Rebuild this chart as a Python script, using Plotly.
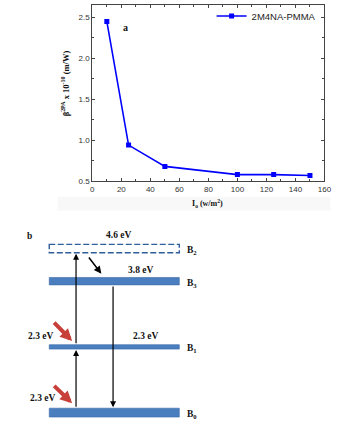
import plotly.graph_objects as go

# Panel (a): two-photon absorption coefficient vs input intensity
intensity = [10, 25, 50, 100, 125, 150]
beta_2pa = [2.45, 0.94, 0.68, 0.58, 0.58, 0.57]
series_name = "2M4NA-PMMA"
x_ticks = [0, 20, 40, 60, 80, 100, 120, 140, 160]
y_ticks = [0.5, 1.0, 1.5, 2.0, 2.5]

# Panel (b): energy level scheme
level_names = ["B<sub>0</sub>", "B<sub>1</sub>", "B<sub>3</sub>", "B<sub>2</sub>"]
level_energy_labels = ["", "2.3 eV", "3.8 eV", "4.6 eV"]
photon_labels = ["2.3 eV", "2.3 eV"]

W, H = 349, 428
BLUE = "#0000ff"
AX = "#444444"
SERIF = "Liberation Serif, Times New Roman, serif"
SANS = "Liberation Sans, Arial, sans-serif"

# plot frame of panel (a) in pixels
px0, px1 = 92.7, 331.0
py_top, py_bot = 4.7, 183.3

fig = go.Figure()
fig.add_trace(go.Scatter(
    x=intensity, y=beta_2pa, mode="lines+markers", name=series_name,
    line=dict(color=BLUE, width=1.6),
    marker=dict(symbol="square", size=5, color=BLUE),
    xaxis="x", yaxis="y",
))

axis_common = dict(
    showgrid=False, zeroline=False, showline=True, linecolor=AX, linewidth=1,
    mirror="ticks", ticks="inside", ticklen=3, tickcolor=AX, tickwidth=1,
    tickfont=dict(family=SANS, size=8, color="#333333"),
)
fig.update_layout(
    width=W, height=H,
    margin=dict(l=0, r=0, t=0, b=0),
    paper_bgcolor="white", plot_bgcolor="rgba(0,0,0,0)",
    xaxis=dict(domain=[px0 / W, px1 / W], range=[0, 160], tickvals=x_ticks,
               minor=dict(ticks="inside", ticklen=2, dtick=10, tickcolor=AX),
               anchor="y", **axis_common),
    yaxis=dict(domain=[1 - py_bot / H, 1 - py_top / H], range=[0.5, 2.655],
               tickvals=y_ticks, tickformat=".1f",
               minor=dict(ticks="inside", ticklen=2, dtick=0.25, tick0=0.5, tickcolor=AX),
               anchor="x", **axis_common),
    # pixel-space canvas for the level diagram and free text
    xaxis2=dict(domain=[0, 1], range=[0, W], visible=False, anchor="y2"),
    yaxis2=dict(domain=[0, 1], range=[H, 0], visible=False, anchor="x2"),
    showlegend=True,
    legend=dict(x=0.94, y=0.962, xanchor="right", yanchor="middle",
                bgcolor="rgba(0,0,0,0)", borderwidth=0, itemwidth=30,
                font=dict(family=SANS, size=9.5, color="#222222"),
                tracegroupgap=0),
)

# keep an (empty) trace on the pixel canvas so the overlay axes render
fig.add_trace(go.Scatter(x=[0], y=[0], mode="markers", marker=dict(opacity=0),
                         xaxis="x2", yaxis="y2", showlegend=False, hoverinfo="skip"))

shapes = []
ann = []

# faint band behind the x-axis title
shapes.append(dict(type="rect", xref="x2", yref="y2", x0=57, x1=337, y0=199, y1=213,
                   fillcolor="#f8f8f8", line=dict(width=0), layer="below"))

ann.append(dict(xref="x2", yref="y2", x=127, y=28, text="<b>a</b>", showarrow=False,
                font=dict(family=SERIF, size=10, color="#111111")))
ann.append(dict(xref="x2", yref="y2", x=211, y=206,
                text="<b>I<sub>o</sub> (w/m<sup>2</sup>)</b>", showarrow=False,
                font=dict(family=SERIF, size=8, color="#111111")))
ann.append(dict(xref="x2", yref="y2", x=65, y=84, textangle=-90,
                text="<b>β<sup>2PA</sup> x 10<sup>-10</sup> (m/W)</b>", showarrow=False,
                font=dict(family=SERIF, size=8.5, color="#111111")))

# ---- level diagram ----
LX0, LX1 = 48.5, 182
level_geom = {  # centre y, thickness (px)
    0: (417.5, 9),
    1: (351.0, 4.5),
    2: (284.5, 7.5),
    3: (251.5, 8.5),
}
BAR = "#4a7ebf"
TXT = dict(family=SERIF, size=9.5, color="#111111")
for i, name in enumerate(level_names):
    yc, h = level_geom[i]
    if i == 3:
        shapes.append(dict(type="rect", xref="x2", yref="y2", x0=LX0, x1=LX1,
                           y0=yc - h / 2, y1=yc + h / 2, fillcolor="white",
                           line=dict(color="#2f5f9a", width=1.4, dash="6px,2.5px")))
    else:
        shapes.append(dict(type="rect", xref="x2", yref="y2", x0=LX0, x1=LX1,
                           y0=yc - h / 2, y1=yc + h / 2, fillcolor=BAR,
                           line=dict(color="#3a6aa8", width=0.6)))
    ann.append(dict(xref="x2", yref="y2", x=188, y=yc + 2, xanchor="left",
                    text="<b>" + name + "</b>", showarrow=False, font=TXT))

label_pos = {1: (147, 340), 2: (142, 273), 3: (120, 238)}
for i, lab in enumerate(level_energy_labels):
    if lab:
        x, y = label_pos[i]
        ann.append(dict(xref="x2", yref="y2", x=x, y=y, text="<b>" + lab + "</b>",
                        showarrow=False, font=TXT))

ann.append(dict(xref="x2", yref="y2", x=28, y=239, text="<b>b</b>", showarrow=False,
                font=TXT))
for lab, (x, y) in zip(photon_labels, [(40, 340), (42, 403)]):
    ann.append(dict(xref="x2", yref="y2", x=x, y=y, text="<b>" + lab + "</b>",
                    showarrow=False, font=TXT))


def arrow(x0, y0, x1, y1, color="black", width=1.2, size=1.0, head=2):
    ann.append(dict(xref="x2", yref="y2", axref="x2", ayref="y2",
                    x=x1, y=y1, ax=x0, ay=y0, text="", showarrow=True,
                    arrowhead=head, arrowsize=size, arrowwidth=width, arrowcolor=color))


b0 = level_geom[0][0] - level_geom[0][1] / 2
b1_top = level_geom[1][0] - level_geom[1][1] / 2
b1_bot = level_geom[1][0] + level_geom[1][1] / 2
b3_bot = level_geom[2][0] + level_geom[2][1] / 2
b2_bot = level_geom[3][0] + level_geom[3][1] / 2

arrow(76, b0, 76, b1_bot + 1)          # B0 -> B1 absorption
arrow(76, b1_top, 76, b2_bot + 1)      # B1 -> B2 absorption
arrow(114, b3_bot, 114, b0 - 1)        # B3 -> B0 emission
arrow(88, 259, 102, 277, width=1.5)    # B2 -> B3 relaxation
arrow(52, 325, 72, 345, color="#c8403a", width=4, size=0.6)   # incoming photons
arrow(52, 389, 72, 408, color="#c8403a", width=4, size=0.6)

fig.update_layout(shapes=shapes, annotations=ann)
fig.write_html("out.html")
